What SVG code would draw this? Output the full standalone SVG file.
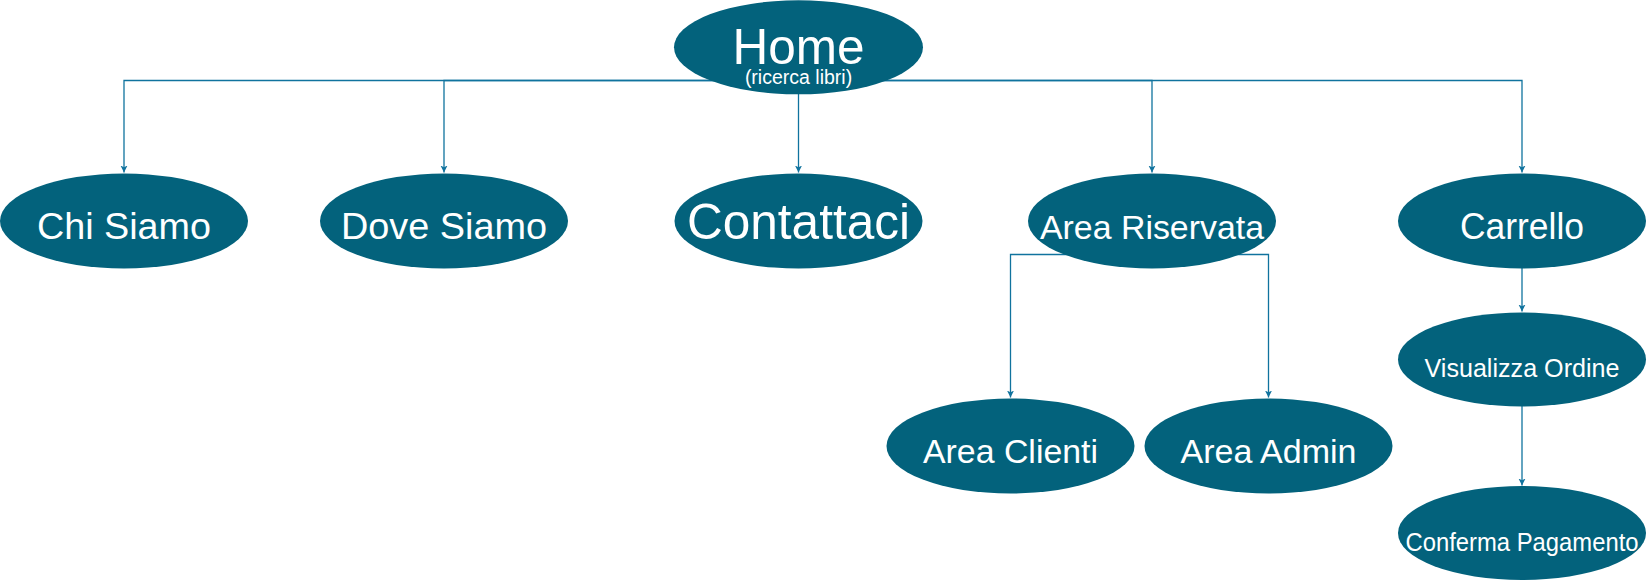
<svg xmlns="http://www.w3.org/2000/svg" width="1652" height="581" viewBox="0 0 1652 581">
<style>
.n{fill:#03627C;}
.t{fill:#ffffff;font-family:"Liberation Sans",Arial,sans-serif;text-anchor:middle;}
.c{fill:none;stroke:#10739E;stroke-width:1.3;}
</style>
<defs>
<marker id="a" markerWidth="8" markerHeight="10" refX="7" refY="5" orient="auto" markerUnits="userSpaceOnUse" viewBox="0 0 8 10">
<path d="M0,1.5 L7,5 L0,8.5 L1.8,5 Z" fill="#10739E" transform="rotate(0)"/>
</marker>
</defs>
<rect width="1652" height="581" fill="#ffffff"/>
<g id="connectors">
<path class="c" d="M798.5,80.5 H124 V172.5" marker-end="url(#a)"/>
<path class="c" d="M798.5,80.5 H444 V172.5" marker-end="url(#a)"/>
<path class="c" d="M798.5,94 V172.5" marker-end="url(#a)"/>
<path class="c" d="M798.5,80.5 H1152 V172.5" marker-end="url(#a)"/>
<path class="c" d="M798.5,80.5 H1522 V172.5" marker-end="url(#a)"/>
<path class="c" d="M1152,254.5 H1010.5 V397.5" marker-end="url(#a)"/>
<path class="c" d="M1152,254.5 H1268.5 V397.5" marker-end="url(#a)"/>
<path class="c" d="M1522,267 V311.5" marker-end="url(#a)"/>
<path class="c" d="M1522,406 V485.5" marker-end="url(#a)"/>
</g>
<g id="home">
<ellipse class="n" cx="798.5" cy="47.3" rx="124.5" ry="47"/>
<text class="t" x="798.5" y="64" font-size="49.5">Home</text>
<text class="t" x="798.5" y="84" font-size="19.5">(ricerca libri)</text>
</g>
<g id="chi-siamo">
<ellipse class="n" cx="124" cy="221" rx="124" ry="47.5"/>
<text class="t" x="124" y="239" font-size="37.5" textLength="174" lengthAdjust="spacingAndGlyphs">Chi Siamo</text>
</g>
<g id="dove-siamo">
<ellipse class="n" cx="444" cy="221" rx="124" ry="47.5"/>
<text class="t" x="444" y="239" font-size="37.5" textLength="206" lengthAdjust="spacingAndGlyphs">Dove Siamo</text>
</g>
<g id="contattaci">
<ellipse class="n" cx="798.5" cy="221" rx="124" ry="47.5"/>
<text class="t" x="798.5" y="239" font-size="49.5" textLength="223" lengthAdjust="spacingAndGlyphs">Contattaci</text>
</g>
<g id="area-riservata">
<ellipse class="n" cx="1152" cy="221" rx="124" ry="47.5"/>
<text class="t" x="1152" y="239" font-size="33" textLength="224" lengthAdjust="spacingAndGlyphs">Area Riservata</text>
</g>
<g id="carrello">
<ellipse class="n" cx="1522" cy="221" rx="124" ry="47.5"/>
<text class="t" x="1522" y="239" font-size="36" textLength="124" lengthAdjust="spacingAndGlyphs">Carrello</text>
</g>
<g id="area-clienti">
<ellipse class="n" cx="1010.5" cy="446" rx="124" ry="47.5"/>
<text class="t" x="1010.5" y="463" font-size="33" textLength="175" lengthAdjust="spacingAndGlyphs">Area Clienti</text>
</g>
<g id="area-admin">
<ellipse class="n" cx="1268.5" cy="446" rx="124" ry="47.5"/>
<text class="t" x="1268.5" y="463" font-size="33" textLength="176" lengthAdjust="spacingAndGlyphs">Area Admin</text>
</g>
<g id="visualizza-ordine">
<ellipse class="n" cx="1522" cy="359.5" rx="124" ry="47"/>
<text class="t" x="1522" y="376.5" font-size="25" textLength="195" lengthAdjust="spacingAndGlyphs">Visualizza Ordine</text>
</g>
<g id="conferma-pagamento">
<ellipse class="n" cx="1522" cy="533" rx="124" ry="47"/>
<text class="t" x="1522" y="551" font-size="25" textLength="233" lengthAdjust="spacingAndGlyphs">Conferma Pagamento</text>
</g>
</svg>
